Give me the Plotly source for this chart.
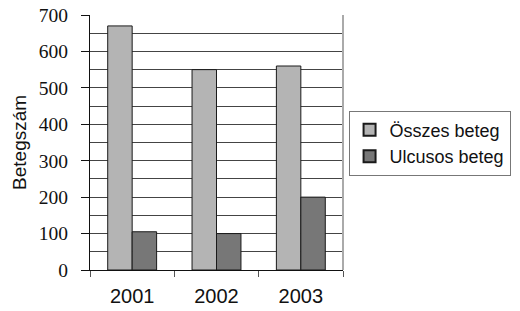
import plotly.graph_objects as go

years = ["2001", "2002", "2003"]
osszes = [670, 550, 560]
ulcusos = [105, 100, 200]

fig = go.Figure()
fig.add_trace(go.Bar(x=years, y=osszes, name="Összes beteg",
                     marker=dict(color="#b4b4b4", line=dict(color="#1a1a1a", width=1))))
fig.add_trace(go.Bar(x=years, y=ulcusos, name="Ulcusos beteg",
                     marker=dict(color="#777777", line=dict(color="#1a1a1a", width=1))))

fig.update_layout(
    width=512, height=303,
    margin=dict(l=82, r=177, t=7, b=41, autoexpand=False),
    paper_bgcolor="white", plot_bgcolor="white",
    barmode="group", bargap=0.42, bargroupgap=0,
    showlegend=True,
    legend=dict(x=1.022, y=0.625, xanchor="left", yanchor="top",
                bordercolor="#777777", borderwidth=1,
                font=dict(family="Liberation Sans", size=18, color="#111111"),
                itemsizing="constant", tracegroupgap=0, itemwidth=30),
    xaxis=dict(showline=True, linecolor="#111111", linewidth=1, automargin=False,
               ticks="outside", tickson="boundaries", ticklen=6, tickcolor="#555555",
               ticklabelstandoff=8,
               tickfont=dict(family="Liberation Serif" if False else "Liberation Sans", size=20, color="#111111"),
               showgrid=False),
    yaxis=dict(range=[0, 700], dtick=100, showline=True, linecolor="#111111", linewidth=1,
               automargin=False, ticklabeloverflow="allow",
               ticks="outside", ticklen=8, tickcolor="#111111", ticklabelstandoff=9,
               tickfont=dict(family="Liberation Serif", size=19.5, color="#111111"),
               showgrid=True, gridcolor="#444444", gridwidth=1,
               minor=dict(dtick=50, showgrid=True, gridcolor="#444444", gridwidth=1),
               zeroline=False),
    annotations=[dict(text="Betegszám", xref="paper", yref="paper", x=-0.279, y=0.5,
                      textangle=-90, showarrow=False, xanchor="center", yanchor="middle",
                      font=dict(family="Liberation Sans", size=19, color="#111111"))],
    shapes=[dict(type="line", xref="paper", yref="paper", x0=1, x1=1, y0=0, y1=1,
                 line=dict(color="#aaaaaa", width=2))],
)

fig.write_html("out.html")
